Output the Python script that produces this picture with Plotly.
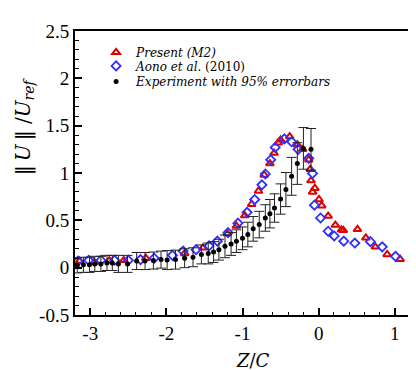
import plotly.graph_objects as go

# Present (M2)
present_x = [-3.14, -2.95, -2.75, -2.56, -2.27, -1.76, -1.52, -1.20, -1.08, -0.97, -0.88, -0.79,
             -0.715, -0.64, -0.585, -0.53, -0.50, -0.38, -0.28, -0.21, -0.13, -0.11, -0.10, -0.08,
             -0.05, 0.005, 0.04, 0.125, 0.22, 0.30, 0.325, 0.51, 0.62, 0.745, 0.90, 1.07]
present_y = [0.07, 0.057, 0.074, 0.078, 0.10, 0.15, 0.21, 0.36, 0.44, 0.55, 0.67, 0.81,
             0.98, 1.10, 1.21, 1.32, 1.35, 1.385, 1.30, 1.25, 1.14, 1.04, 0.92, 0.80,
             0.84, 0.72, 0.655, 0.545, 0.45, 0.40, 0.395, 0.405, 0.315, 0.22, 0.14, 0.09]

# Aono et al. (2010)
aono_x = [-3.16, -3.02, -2.86, -2.68, -2.50, -2.34, -2.16, -1.92, -1.78, -1.61, -1.44, -1.33,
          -1.19, -1.06, -0.94, -0.84, -0.745, -0.70, -0.63, -0.57, -0.45, -0.355, -0.27, -0.13,
          -0.08, -0.055, 0.025, 0.125, 0.205, 0.33, 0.475, 0.68, 0.835, 1.01]
aono_y = [0.07, 0.078, 0.078, 0.078, 0.078, 0.085, 0.10, 0.13, 0.175, 0.19, 0.23, 0.28,
          0.37, 0.47, 0.585, 0.72, 0.875, 0.99, 1.14, 1.27, 1.36, 1.33, 1.25, 1.155,
          0.995, 0.66, 0.525, 0.385, 0.335, 0.28, 0.26, 0.275, 0.22, 0.12]

# Experiment with 95% errorbars
exp_x = [-3.17, -3.09, -3.01, -2.94, -2.86, -2.78, -2.71, -2.63, -2.51, -2.39, -2.28, -2.17,
         -2.07, -1.99, -1.88, -1.76, -1.65, -1.54, -1.45, -1.38, -1.31, -1.23, -1.15, -1.08,
         -1.00, -0.93, -0.86, -0.78, -0.70, -0.64, -0.58, -0.50, -0.43, -0.355, -0.28, -0.20, -0.10]
exp_y = [0.025, 0.03, 0.03, 0.04, 0.04, 0.05, 0.05, 0.04, 0.04, 0.07, 0.07, 0.075,
         0.085, 0.08, 0.085, 0.10, 0.11, 0.14, 0.15, 0.165, 0.19, 0.225, 0.25, 0.28,
         0.31, 0.35, 0.41, 0.455, 0.525, 0.57, 0.63, 0.725, 0.825, 0.965, 1.10, 1.26, 1.25]
exp_err = [0.08, 0.08, 0.08, 0.08, 0.08, 0.08, 0.08, 0.09, 0.09, 0.09, 0.09, 0.09,
           0.09, 0.10, 0.10, 0.10, 0.10, 0.10, 0.11, 0.11, 0.11, 0.12, 0.12, 0.12,
           0.12, 0.13, 0.13, 0.14, 0.14, 0.15, 0.15, 0.16, 0.18, 0.20, 0.22, 0.22, 0.22]

y_ticks = [-0.5, 0, 0.5, 1, 1.5, 2, 2.5]
y_ticklabels = ["-0.5", "0", "0.5", "1", "1.5", "2", "2.5"]
x_ticks = [-3, -2, -1, 0, 1]
x_ticklabels = ["-3", "-2", "-1", "0", "1"]

SERIF = "Liberation Serif"
MATH = "DejaVu Serif"

fig = go.Figure()
fig.add_trace(go.Scatter(
    x=present_x, y=present_y, mode="markers", name="<i>Present (M2)</i>", legend="legend",
    marker=dict(symbol="triangle-up-open", size=7, color="#e00000", line=dict(width=2, color="#e00000")),
))
fig.add_trace(go.Scatter(
    x=aono_x, y=aono_y, mode="markers", name="<i>Aono et al.</i> (2010)", legend="legend2",
    marker=dict(symbol="diamond-open", size=7, color="#2f2fff", line=dict(width=1.8, color="#2f2fff")),
))
fig.add_trace(go.Scatter(
    x=exp_x, y=exp_y, mode="markers", name="<i>Experiment with 95% errorbars</i>", legend="legend3",
    marker=dict(symbol="circle", size=5, color="black"),
    error_y=dict(type="data", array=exp_err, visible=True, color="#222222", thickness=1, width=5),
))

leg_common = dict(x=0.063, xanchor="left", yanchor="middle", bgcolor="rgba(0,0,0,0)",
                  font=dict(family=MATH, size=12, color="black"), itemwidth=30)

fig.update_layout(
    width=416, height=370,
    margin=dict(l=67, r=14, t=23, b=63),
    paper_bgcolor="white", plot_bgcolor="white",
    font=dict(family=SERIF, size=19, color="black"),
    showlegend=True,
    legend=dict(y=0.925, **leg_common),
    legend2=dict(y=0.877, **leg_common),
    legend3=dict(y=0.822, **leg_common),
)
fig.update_xaxes(
    range=[-3.2, 1.2], tickvals=x_ticks, ticktext=x_ticklabels,
    showline=True, linecolor="black", linewidth=2, mirror=True,
    ticks="inside", ticklen=7, tickwidth=1.5, tickcolor="black",
    showgrid=False, zeroline=False,
    tickfont=dict(family=SERIF, size=19, color="black"),
    minor=dict(ticks="inside", ticklen=3.5, dtick=0.2, tickcolor="black", tickwidth=1),
)
fig.update_yaxes(
    range=[-0.5, 2.5], tickvals=y_ticks, ticktext=y_ticklabels,
    showline=True, linecolor="black", linewidth=2, mirror=True,
    ticks="inside", ticklen=7, tickwidth=1.5, tickcolor="black",
    showgrid=False, zeroline=False,
    tickfont=dict(family=SERIF, size=19, color="black"),
    minor=dict(ticks="inside", ticklen=3.5, dtick=0.1, tickcolor="black", tickwidth=1),
)
fig.add_annotation(text="<i>Z</i>/<i>C</i>", xref="paper", yref="paper", x=0.53, y=-0.16,
                   xanchor="center", yanchor="middle", showarrow=False,
                   font=dict(family=MATH, size=18, color="black"))
fig.add_annotation(text="‖\u2009<i>U</i>\u2009‖ /<i>U</i><sub><i>ref</i></sub>", xref="paper", yref="paper",
                   x=-0.152, y=0.665, xanchor="center", yanchor="middle", textangle=-90, showarrow=False,
                   font=dict(family=MATH, size=20, color="black"))

fig.write_html("out.html")
